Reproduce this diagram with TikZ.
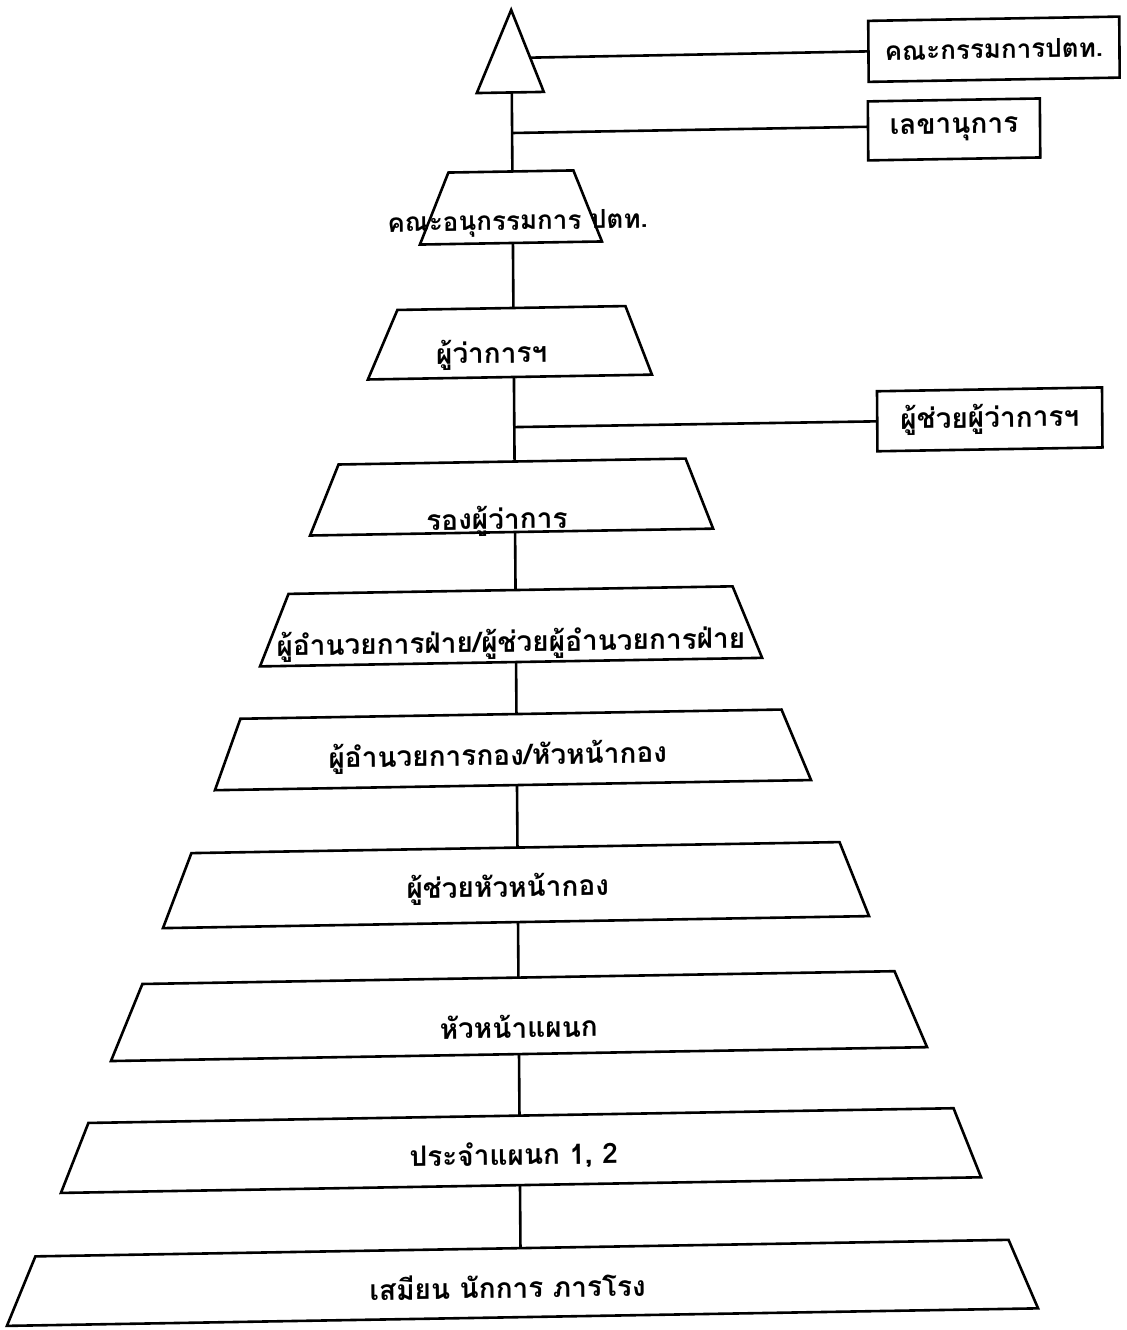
\documentclass[tikz,border=0pt]{standalone}
\usepackage{fontspec}
\newfontfamily\thai[Script=Thai]{Loma}
\usetikzlibrary{calc}
\begin{document}
\begin{tikzpicture}[x=0.5pt,y=-0.5pt,
  ln/.style={line width=1.3pt},
  boxnode/.style={draw,ln,rectangle,inner sep=0pt,outer sep=0pt,transform shape,font=\thai\bfseries\fontsize{14}{17}\selectfont},
  lbl/.style={font=\thai\bfseries\fontsize{14}{17}\selectfont,inner sep=0pt,anchor=base,transform shape},
  small/.style={font=\thai\bfseries\fontsize{13}{16}\selectfont}]
\useasboundingbox (0,0) rectangle (1127,1330);
\begin{scope}[cm={1,0.017,-0.0075,1,(-2.49pt,-4.35pt)}]
% apex triangle
\coordinate (triA) at (516,10);
\coordinate (triL) at (481,92.5);
\coordinate (triR) at (548,92.5);
\draw[ln] (triA) -- (triL) -- (triR) -- cycle;
\coordinate (tb) at (516,92.5);
% side boxes
\node[boxnode,small,minimum width=125.5pt,minimum height=30.5pt] (box1) at (998.5,57.5) {คณะกรรมการปตท.};
\node[boxnode,minimum width=86pt,minimum height=29.5pt] (box2) at (958,137) {เลขานุการ};
\node[boxnode,minimum width=112.5pt,minimum height=30pt] (box3) at (991.5,427.5) {ผู้ช่วยผู้ว่าการฯ};
% trapezia: name / bottom y / top y / bottom-left x / top-left x / top-right x / bottom-right x
\foreach \n/\yb/\yt/\xbl/\xtl/\xtr/\xbr in {
  T1/243/171.5/423/452/577/605,
  T2/377/308/370/400/628/654,
  T3/532/461.5/311/340/687/714,
  T4/662/590/260/289/733/762,
  T5/785/714/214/240/781/810,
  T6/922/847.5/161/190/838/867,
  T7/1054/977.5/108/140/892/924,
  T8/1185/1115.5/57/85/950/977,
  T9/1317/1248/2/31/1004/1033}{
  \coordinate (\n-bl) at (\xbl,\yb);
  \coordinate (\n-tl) at (\xtl,\yt);
  \coordinate (\n-tr) at (\xtr,\yt);
  \coordinate (\n-br) at (\xbr,\yb);
  \draw[ln] (\n-bl) -- (\n-tl) -- (\n-tr) -- (\n-br) -- cycle;
  \coordinate (\n-t) at (516,\yt);
  \coordinate (\n-b) at (516,\yb);
}
% main spine
\draw[ln] (tb) -- (T1-t);
\draw[ln] (T1-b) -- (T2-t);
\draw[ln] (T2-b) -- (T3-t);
\draw[ln] (T3-b) -- (T4-t);
\draw[ln] (T4-b) -- (T5-t);
\draw[ln] (T5-b) -- (T6-t);
\draw[ln] (T6-b) -- (T7-t);
\draw[ln] (T7-b) -- (T8-t);
\draw[ln] (T8-b) -- (T9-t);
% side connectors
\coordinate (c1) at ($(triA)!0.582!(triR)$);
\draw[ln] (c1) -- (box1.west);
\coordinate (j2) at ($(tb)!0.513!(T1-t)$);
\draw[ln] (j2) -- ($(box2.north west)!0.43!(box2.south west)$);
\coordinate (j3) at ($(T2-b)!0.592!(T3-t)$);
\draw[ln] (j3) -- (box3.west);
% labels
\node[lbl,small] (L1) at (521,230) {คณะอนุกรรมการ ปตท.};
\node[lbl] (L2) at (494,363) {ผู้ว่าการฯ};
\node[lbl] (L3) at (498,529) {รองผู้ว่าการ};
\node[lbl] (L4) at (511,652) {ผู้อำนวยการฝ่าย/ผู้ช่วยผู้อำนวยการฝ่าย};
\node[lbl] (L5) at (497,765) {ผู้อำนวยการกอง/หัวหน้ากอง};
\node[lbl] (L6) at (506,897) {ผู้ช่วยหัวหน้ากอง};
\node[lbl] (L7) at (516,1038) {หัวหน้าแผนก};
\node[lbl] (L8) at (510,1165) {ประจำแผนก 1, 2};
\node[lbl] (L9) at (503,1298) {เสมียน นักการ ภารโรง};
\end{scope}
\end{tikzpicture}
\end{document}
